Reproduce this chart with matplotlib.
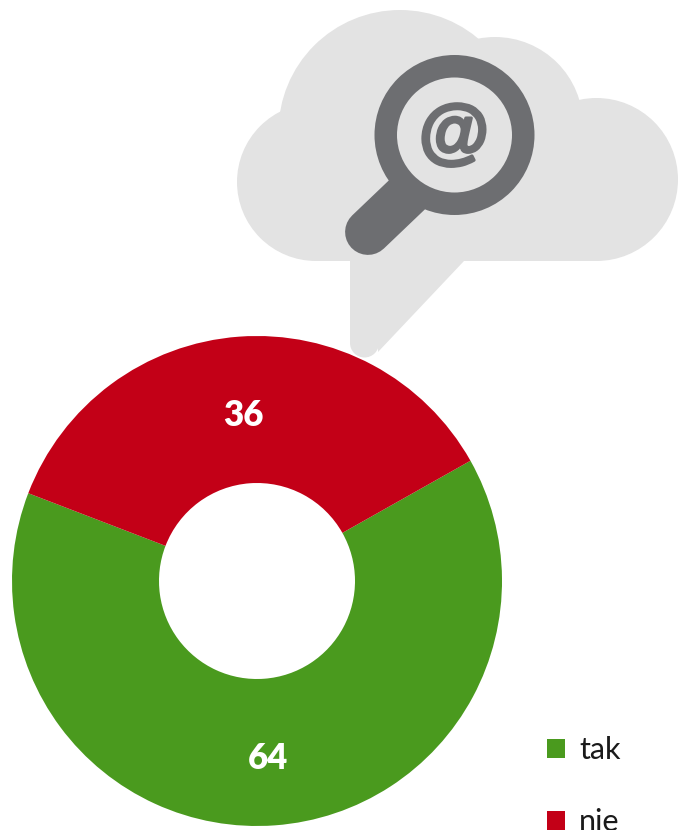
import matplotlib
matplotlib.use('Agg')
import matplotlib.pyplot as plt
import matplotlib.patheffects as pe
from matplotlib.patches import Circle, Rectangle, Polygon
from matplotlib.transforms import offset_copy

# chart data
labels = ['tak', 'nie']
values = [64, 36]
colors = ['#4A9A1E', '#C30017']

cloud_color = '#E3E3E3'
icon_color = '#6D6E71'

plt.rcParams['font.family'] = ['Lato', 'DejaVu Sans']

fig = plt.figure(figsize=(6.78, 8.30), dpi=100, facecolor='white')

# background layer in pixel coords, for the cloud picture
bg = fig.add_axes([0, 0, 1, 1])
bg.set_xlim(0, 678)
bg.set_ylim(830, 0)
bg.axis('off')

# cloud
for xy, r in [((400, 131.5), 121.5), ((495, 125), 88), ((596.5, 179.5), 81.5), ((316, 182), 79)]:
    bg.add_patch(Circle(xy, r, fc=cloud_color, ec='none'))
bg.add_patch(Rectangle((316, 130), 281, 131, fc=cloud_color, ec='none'))

# speech bubble tail
bg.add_patch(Polygon([(350, 255), (350, 343), (378, 343), (378, 352), (464, 261), (464, 255)],
                     fc=cloud_color, ec='none'))
bg.add_patch(Circle((364.5, 343), 14.5, fc=cloud_color, ec='none'))

# magnifying glass
bg.plot([412, 368], [190, 232], color=icon_color, lw=33, solid_capstyle='round', zorder=3)
bg.add_patch(Circle((454.5, 135), 80, fc=icon_color, ec='none', zorder=4))
bg.add_patch(Circle((454.5, 135), 57.5, fc=cloud_color, ec='none', zorder=5))
bg.text(454, 136, '@', color=icon_color, fontsize=52, fontweight='bold',
        family='Liberation Sans', ha='center', va='center', zorder=6,
        path_effects=[pe.withStroke(linewidth=2.2, foreground=icon_color)])

# donut
ax = fig.add_axes([12 / 678, 4 / 830, 490 / 678, 490 / 830])
ax.patch.set_alpha(0)
wedges, texts, autotexts = ax.pie(values, colors=colors, startangle=159, radius=1,
                                  wedgeprops={'width': 0.6, 'linewidth': 0},
                                  autopct='%.0f', pctdistance=0.7,
                                  textprops={'color': 'white', 'fontsize': 25, 'fontweight': 800})
for t in autotexts:
    t.set_va('center_baseline')
    t.set_transform(offset_copy(t.get_transform(), fig=fig, x=-1.5, y=-3, units='dots'))
ax.set_xlim(-1, 1)
ax.set_ylim(-1, 1)

# legend, second entry sits right on the bottom edge like in the original
fig.legend(wedges, labels, loc='lower left', bbox_to_anchor=(547 / 678, -6 / 830),
           frameon=False, fontsize=22, handlelength=0.59, handleheight=0.59,
           handletextpad=0.46, labelspacing=1.43, borderpad=0, borderaxespad=0,
           labelcolor='#1A1A1A')

fig.savefig('out.png', dpi=100)
